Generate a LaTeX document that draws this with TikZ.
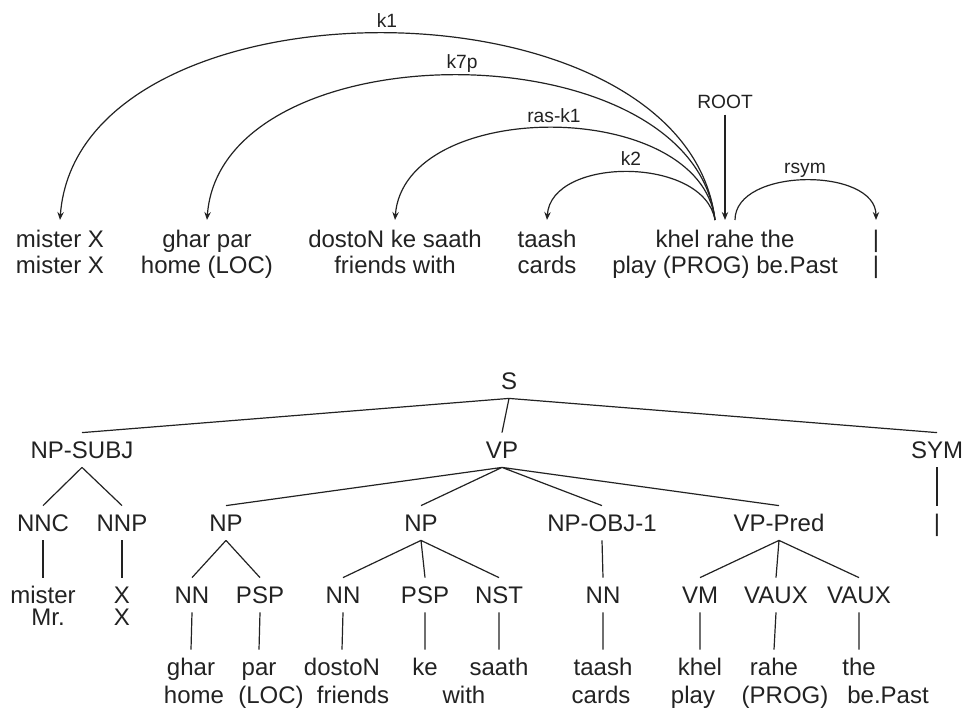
\documentclass[tikz,border=0pt]{standalone}
\usepackage{fontspec}
\setmainfont{Liberation Sans}
\usetikzlibrary{arrows.meta, positioning}
\definecolor{hdInk}{HTML}{222222}
\tikzset{
  word/.style={anchor=north, align=center, inner sep=5pt, text=hdInk,
               font=\fontsize{12}{13}\selectfont},
  deplbl/.style={anchor=base, inner sep=3pt, text=hdInk,
                 font=\fontsize{9.6}{11}\selectfont},
  deparc/.style={draw=hdInk, line width=0.6pt, -{Stealth[length=4pt,width=3.2pt]}},
  cat/.style={inner xsep=2pt, inner ysep=4.2pt, text height=8.6pt, text depth=0pt,
              text=hdInk, font=\fontsize{12}{13}\selectfont},
  branch/.style={draw=hdInk, line width=0.6pt},
}

\begin{document}
\begin{tikzpicture}[x=0.5pt, y=-0.5pt]
\useasboundingbox (0,0) rectangle (963,709);

% dependency view
\node[word] (mr)    at (60,220)  {mister X\\mister X};
\node[word] (ghar)  at (207,220) {ghar par\\home (LOC)};
\node[word] (dost)  at (395,220) {dostoN ke saath\\friends with};
\node[word] (taash) at (547,220) {taash\\cards};
\node[word] (khel)  at (725,220) {khel rahe the\\play (PROG) be.Past};
\node[word] (dnd)   at (876,220) {|\\|};

\node[deplbl] (lkone)   at (387,27)  {k1};
\node[deplbl] (lkseven) at (462,68)  {k7p};
\node[deplbl] (lras)    at (554,122) {ras-k1};
\node[deplbl] (lktwo)   at (631,165) {k2};
\node[deplbl] (lrsym)   at (805,173) {rsym};
\node[deplbl] (root)    at (725,108) {ROOT};

\draw[deparc] ([xshift=-5pt]khel.north) .. controls (685,-29) and (78,-29) .. (mr.north);
\draw[deparc] ([xshift=-5pt]khel.north) .. controls (692,27) and (221,27) .. (ghar.north);
\draw[deparc] ([xshift=-5pt]khel.north) .. controls (700,97) and (404,97) .. (dost.north);
\draw[deparc] ([xshift=-5pt]khel.north) .. controls (704,156) and (551,156) .. (taash.north);
\draw[deparc] (root.south) -- (khel.north);
\draw[deparc] ([xshift=5pt]khel.north) .. controls (735,167) and (876,167) .. (dnd.north);

% phrase structure view
\node[cat] (s)      at (509,381) {S};
\node[cat] (npsubj) at (82,450)  {NP-SUBJ};
\node[cat] (vp)     at (502,450) {VP};
\node[cat] (sym)    at (937,450) {SYM};

\node[cat] (nnc)    at (43,523)  {NNC};
\node[cat] (nnp)    at (122,523) {NNP};
\node[cat] (npa)    at (226,523) {NP};
\node[cat] (npb)    at (421,523) {NP};
\node[cat] (npobj)  at (602,523) {NP-OBJ-1};
\node[cat] (vpred)  at (779,523) {VP-Pred};
\node[cat] (danda)  at (937,523) {|};

\node[cat] (wmister) at (43,595)  {mister};
\node[cat] (wx)      at (122,595) {X};
\node[cat] (nna)     at (192,595) {NN};
\node[cat] (pspa)    at (260,595) {PSP};
\node[cat] (nnb)     at (343,595) {NN};
\node[cat] (pspb)    at (425,595) {PSP};
\node[cat] (nst)     at (499,595) {NST};
\node[cat] (nnd)     at (603,595) {NN};
\node[cat] (vm)      at (700,595) {VM};
\node[cat] (vauxa)   at (776,595) {VAUX};
\node[cat] (vauxb)   at (859,595) {VAUX};
\node[cat] (gmr)     at (48,617)  {Mr.};
\node[cat] (gx)      at (122,617) {X};

\node[cat] (wghar)  at (191,667) {ghar};
\node[cat] (wpar)   at (259,667) {par};
\node[cat] (wdost)  at (342,667) {dostoN};
\node[cat] (wke)    at (425,667) {ke};
\node[cat] (wsaath) at (499,667) {saath};
\node[cat] (wtaash) at (603,667) {taash};
\node[cat] (wkhel)  at (700,667) {khel};
\node[cat] (wrahe)  at (774,667) {rahe};
\node[cat] (wthe)   at (859,667) {the};

\node[cat] (ghome)    at (194,695) {home};
\node[cat] (gloc)     at (271,695) {(LOC)};
\node[cat] (gfriends) at (353,695) {friends};
\node[cat] (gwith)    at (464,695) {with};
\node[cat] (gcards)   at (601,695) {cards};
\node[cat] (gplay)    at (693,695) {play};
\node[cat] (gprog)    at (785,695) {(PROG)};
\node[cat] (gpast)    at (888,695) {be.Past};

\draw[branch] (s.south) -- (npsubj.north) (s.south) -- (vp.north) (s.south) -- (sym.north);
\draw[branch] (npsubj.south) -- (nnc.north) (npsubj.south) -- (nnp.north);
\draw[branch] (vp.south) -- (npa.north) (vp.south) -- (npb.north)
              (vp.south) -- (npobj.north) (vp.south) -- (vpred.north);
\draw[branch] (sym.south) -- (danda.north);
\draw[branch] (nnc.south) -- (wmister.north) (nnp.south) -- (wx.north);
\draw[branch] (npa.south) -- (nna.north) (npa.south) -- (pspa.north);
\draw[branch] (npb.south) -- (nnb.north) (npb.south) -- (pspb.north) (npb.south) -- (nst.north);
\draw[branch] (npobj.south) -- (nnd.north);
\draw[branch] (vpred.south) -- (vm.north) (vpred.south) -- (vauxa.north) (vpred.south) -- (vauxb.north);
\draw[branch] (nna.south) -- (wghar.north) (pspa.south) -- (wpar.north)
              (nnb.south) -- (wdost.north) (pspb.south) -- (wke.north)
              (nst.south) -- (wsaath.north) (nnd.south) -- (wtaash.north)
              (vm.south) -- (wkhel.north) (vauxa.south) -- (wrahe.north)
              (vauxb.south) -- (wthe.north);
\end{tikzpicture}
\end{document}
